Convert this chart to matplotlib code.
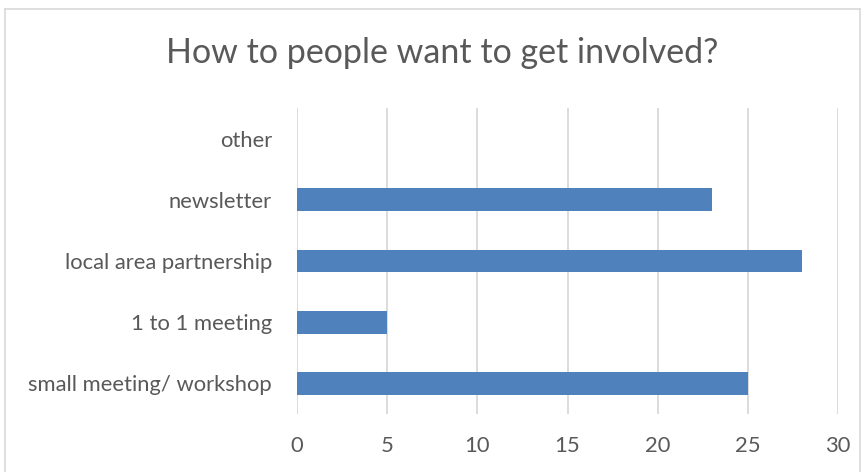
import matplotlib
matplotlib.use("Agg")
import matplotlib.pyplot as plt
from matplotlib.lines import Line2D

categories = ["small meeting/ workshop", "1 to 1 meeting", "local area partnership", "newsletter", "other"]
values = [25, 5, 28, 23, 0]
xticks = [0, 5, 10, 15, 20, 25, 30]

plt.rcParams['font.family'] = ['Lato', 'DejaVu Sans']
text_color = "#595959"

fig = plt.figure(figsize=(8.65, 4.72), dpi=100)
ax = fig.add_axes([297/865, 58/472, (838-297)/865, (414-108)/472])

ax.barh(range(len(categories)), values, height=0.37, color="#4F81BD", zorder=3)
ax.set_xlim(0, 30)
ax.set_ylim(-0.5, len(categories) - 0.5)
ax.set_xticks(xticks)
ax.set_xticklabels([str(t) for t in xticks])
ax.set_yticks(range(len(categories)))
ax.set_yticklabels(categories)
ax.grid(axis='x', color="#D9D9D9", linewidth=1.3, zorder=0)
for s in ax.spines.values():
    s.set_visible(False)
ax.tick_params(axis='both', length=0, labelsize=15.8, colors=text_color)
ax.tick_params(axis='y', pad=18)
ax.tick_params(axis='x', pad=16)

fig.text(442/865, 1 - 53/472, "How to people want to get involved?", ha='center', va='center',
         fontsize=24.5, color=text_color)

# outer chart border
bc = "#D9D9D9"
fig.add_artist(Line2D([5/865, 5/865], [0, 1 - 9/472], transform=fig.transFigure, color=bc, lw=1.2))
fig.add_artist(Line2D([5/865, 860/865], [1 - 9/472, 1 - 9/472], transform=fig.transFigure, color=bc, lw=1.2))
fig.add_artist(Line2D([860/865, 860/865], [0, 1 - 9/472], transform=fig.transFigure, color=bc, lw=1.2))

fig.savefig("out.png", dpi=100)
